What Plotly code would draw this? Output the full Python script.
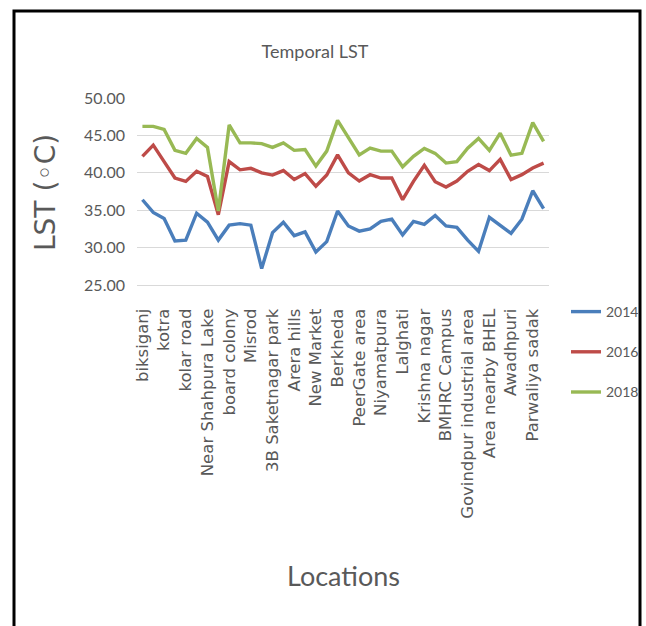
import plotly.graph_objects as go

# Labelled locations (every other sampling site carries a tick label)
locations = [
    "biksiganj", "kotra", "kolar road", "Near Shahpura Lake", "board colony",
    "Misrod", "3B Saketnagar park", "Arera hills", "New Market", "Berkheda",
    "PeerGate area", "Niyamatpura", "Lalghati", "Krishna nagar", "BMHRC Campus",
    "Govindpur industrial area", "Area nearby BHEL", "Awadhpuri", "Parwaliya sadak",
]

# Land surface temperature (°C) at the 38 sampling sites
lst_2014 = [36.4, 34.7, 33.9, 30.9, 31.0, 34.6, 33.4, 31.0, 33.0, 33.2,
            33.0, 27.2, 32.0, 33.4, 31.6, 32.1, 29.4, 30.8, 34.9, 32.9,
            32.2, 32.5, 33.5, 33.8, 31.7, 33.5, 33.1, 34.3, 32.9, 32.7,
            31.0, 29.5, 34.05, 33.0, 31.9, 33.8, 37.6, 35.2]
lst_2016 = [42.2, 43.7, 41.5, 39.3, 38.85, 40.2, 39.5, 34.4, 41.5, 40.4,
            40.6, 40.0, 39.7, 40.3, 39.1, 39.9, 38.2, 39.7, 42.4, 40.0,
            38.9, 39.75, 39.3, 39.3, 36.4, 38.85, 41.0, 38.8, 38.1, 38.9,
            40.2, 41.1, 40.3, 41.8, 39.1, 39.75, 40.65, 41.3]
lst_2018 = [46.2, 46.2, 45.8, 43.0, 42.6, 44.6, 43.4, 34.9, 46.4, 44.0,
            44.0, 43.9, 43.4, 44.0, 43.0, 43.1, 40.9, 42.9, 47.0, 44.7,
            42.4, 43.3, 42.9, 42.9, 40.8, 42.2, 43.25, 42.6, 41.3, 41.5,
            43.3, 44.6, 43.0, 45.3, 42.35, 42.6, 46.7, 44.2]

y_ticks = [25, 30, 35, 40, 45, 50]

site_index = list(range(len(lst_2014)))
label_index = site_index[::2]

FONT = "Lato, Liberation Sans, sans-serif"
GREY = "#595959"

series = [
    ("2014", lst_2014, "#4A7EBB"),
    ("2016", lst_2016, "#BE4B48"),
    ("2018", lst_2018, "#98B954"),
]

fig = go.Figure()
for name, values, color in series:
    fig.add_trace(go.Scatter(
        x=site_index, y=values, mode="lines", name=name,
        legendgroup=name,
        line=dict(color=color, width=3.4),
    ))

W, H = 646, 626
L, R, T, B = 137, 97, 98, 341
pw, ph = W - L - R, H - T - B


def px(xp):
    return (xp - L) / pw


def py(yp):
    return (H - B - yp) / ph


fig.update_layout(
    width=W, height=H,
    margin=dict(l=L, r=R, t=T, b=B, autoexpand=False),
    paper_bgcolor="white", plot_bgcolor="white",
    title=dict(text="Temporal LST", x=315 / W, xref="container", xanchor="center",
               y=1 - 52 / H, yref="container", yanchor="middle",
               font=dict(family=FONT, size=18, color=GREY)),
    showlegend=True,
    legend=dict(x=px(566), y=py(296),
                xanchor="left", yanchor="top",
                font=dict(family=FONT, size=14, color=GREY),
                tracegroupgap=19, traceorder="grouped",
                itemwidth=30,
                bgcolor="rgba(0,0,0,0)"),
)

fig.update_xaxes(
    range=[-0.5, len(site_index) - 0.5],
    tickmode="array", tickvals=label_index, ticktext=locations,
    tickangle=-90, showgrid=False, zeroline=False,
    showline=True, linecolor="#D9D9D9", linewidth=1,
    ticks="", ticklabelstandoff=16,
    tickfont=dict(family="DejaVu Sans", size=16.5, color=GREY),
)
fig.update_yaxes(
    range=[25, 50], tickmode="array", tickvals=y_ticks,
    ticktext=[f"{v:.2f}" for v in y_ticks],
    showgrid=True, gridcolor="#D9D9D9", gridwidth=1,
    zeroline=False, showline=False, ticks="", ticklabelstandoff=11,
    tickfont=dict(family=FONT, size=16, color=GREY),
)

fig.add_annotation(text="LST (◦C)", xref="paper", yref="paper",
                   x=px(45), y=py(193), xanchor="center", yanchor="middle",
                   showarrow=False, textangle=-90,
                   font=dict(family="DejaVu Sans", size=28, color=GREY))
fig.add_annotation(text="Locations", xref="paper", yref="paper",
                   x=px(343), y=py(575), xanchor="center", yanchor="middle",
                   showarrow=False,
                   font=dict(family=FONT, size=27, color=GREY))

# outer frame
fig.add_shape(type="rect", xref="paper", yref="paper",
              x0=px(14), x1=px(640), y0=py(660), y1=py(11),
              line=dict(color="black", width=3), fillcolor="rgba(0,0,0,0)")

fig.write_html("out.html")
